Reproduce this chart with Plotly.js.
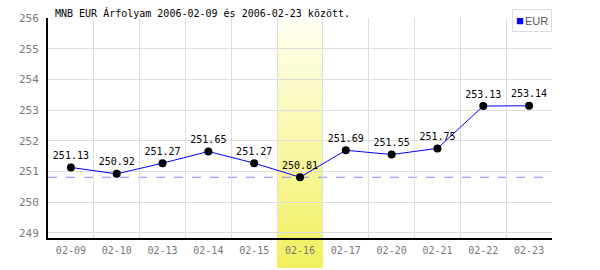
<!DOCTYPE html>
<html><head><meta charset="utf-8">
<script src="https://cdn.plot.ly/plotly-3.0.1.min.js"></script>
<style>body{margin:0;background:#fff}#c{width:600px;height:270px}</style>
</head><body><div id="c"></div>
<script>
var dates = ["02-09","02-10","02-13","02-14","02-15","02-16","02-17","02-20","02-21","02-22","02-23"];
var eurValues = [251.13,250.92,251.27,251.65,251.27,250.81,251.69,251.55,251.75,253.13,253.14];
var labels = eurValues.map(function(v){return v.toFixed(2);});
var highlightDate = "02-16";
var seriesName = "EUR";
var titleText = "MNB EUR Árfolyam 2006-02-09 és 2006-02-23 között.";

var mono = "DejaVu Sans Mono, Liberation Mono, monospace";
var hi = dates.indexOf(highlightDate);
var minV = Math.min.apply(null, eurValues);

var svg = '<svg xmlns="http://www.w3.org/2000/svg" width="10" height="100" preserveAspectRatio="none"><defs><linearGradient id="g" x1="0" y1="0" x2="0" y2="1"><stop offset="0" stop-color="#fffff2"/><stop offset="1" stop-color="#f1ef5c"/></linearGradient></defs><rect width="10" height="100" fill="url(#g)"/></svg>';
var img = "data:image/svg+xml;charset=utf-8," + encodeURIComponent(svg);

var n = dates.length;
var trace = {
  x: dates, y: eurValues, type: "scatter", mode: "lines+markers+text",
  name: seriesName, text: labels, textposition: "top center",
  textfont: {family: mono, size: 10, color: "#000"},
  line: {color: "#0000ff", width: 1},
  marker: {color: "#000", size: 8},
  showlegend: false, cliponaxis: false, hoverinfo: "x+y"
};

var layout = {
  width: 600, height: 270,
  margin: {l: 48, r: 48, t: 18, b: 32},
  paper_bgcolor: "#fff", plot_bgcolor: "rgba(0,0,0,0)",
  title: {text: titleText, font: {family: mono, size: 10, color: "#000"},
    xref: "container", x: 55/600, xanchor: "left", yref: "container", y: 1 - 13/270, yanchor: "middle"},
  xaxis: {type: "category", range: [-0.5, n - 0.5], tickson: "boundaries",
    showgrid: true, gridcolor: "#dddddd", gridwidth: 1,
    showline: true, linecolor: "#000", linewidth: 2, ticks: "",
    tickfont: {family: mono, size: 10, color: "#777"}, ticklabelstandoff: 2,
    zeroline: false, fixedrange: true},
  yaxis: {range: [248.83, 256], dtick: 1, tick0: 249,
    showgrid: true, gridcolor: "#dddddd", gridwidth: 1,
    showline: true, linecolor: "#000", linewidth: 2, ticks: "",
    tickfont: {family: mono, size: 11, color: "#777"}, ticklabelstandoff: 5,
    zeroline: false, fixedrange: true},
  images: [{source: img, xref: "paper", yref: "paper",
    x: hi / n, y: 1 - 1/220, sizex: 1 / n, sizey: 249/220,
    xanchor: "left", yanchor: "top", sizing: "stretch", layer: "below"}],
  shapes: [{type: "line", xref: "paper", x0: 0, x1: 1, yref: "y", y0: minV, y1: minV,
    line: {color: "#8888ff", width: 1, dash: "dash"}, layer: "below"}],
  annotations: [{xref: "paper", yref: "paper", x: 1, y: 1 + 9/220, xanchor: "right", yanchor: "top",
    text: '<span style="color:#0000ff;font-size:13px">■</span><span style="font-size:4px"> </span>' + seriesName, showarrow: false,
    font: {family: "Liberation Sans, Arial, sans-serif", size: 11, color: "#555"},
    bgcolor: "#fff", bordercolor: "#dddddd", borderwidth: 1, borderpad: 3, align: "left"}]
};
Plotly.newPlot("c", [trace], layout, {displayModeBar: false, staticPlot: true});
</script>
</body></html>
